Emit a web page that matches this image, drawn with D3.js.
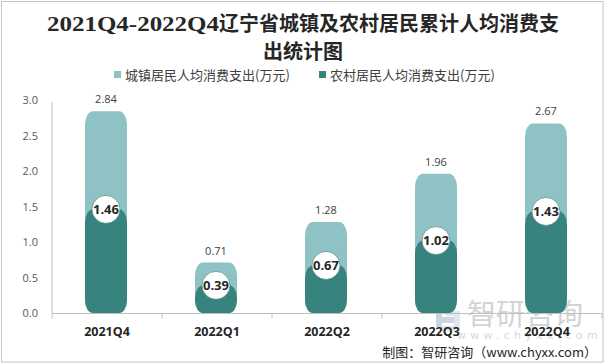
<!DOCTYPE html>
<html><head><meta charset="utf-8">
<script src="https://cdn.jsdelivr.net/npm/d3@7"></script>
<style>body{margin:0;background:#fff}svg{display:block}</style>
</head><body>
<script>
const categories = ["2021Q4","2022Q1","2022Q2","2022Q3","2022Q4"];
const urban = [2.84,0.71,1.28,1.96,2.67];
const rural = [1.46,0.39,0.67,1.02,1.43];
const yTicks = [0,0.5,1.0,1.5,2.0,2.5,3.0];
const seriesNames = ["城镇居民人均消费支出(万元)","农村居民人均消费支出(万元)"];
const colors = ["#8fc2c4","#37837e"];

const W=605,H=364;
const svg=d3.select("body").append("svg").attr("width",W).attr("height",H);
svg.append("rect").attr("x",0).attr("y",0).attr("width",W).attr("height",H).attr("fill","#fff");
svg.append("rect").attr("x",1.5).attr("y",1.5).attr("width",601.5).attr("height",360.5).attr("fill","none").attr("stroke","#c4c4c4");

// title
const cjk='"Noto Sans CJK SC","Noto Sans CJK JP",sans-serif';
const t1=svg.append("text").attr("x",303).attr("y",31).attr("text-anchor","middle").attr("font-size",20).attr("font-weight","bold").attr("fill","#262626").attr("font-family",cjk);
t1.append("tspan").attr("font-family",'"Liberation Serif",serif').attr("font-size",22).attr("textLength",172).attr("lengthAdjust","spacingAndGlyphs").text("2021Q4-2022Q4");
t1.append("tspan").text("辽宁省城镇及农村居民累计人均消费支");
svg.append("text").attr("x",303).attr("y",59).attr("text-anchor","middle").attr("font-size",20).attr("font-weight","bold").attr("fill","#262626").attr("font-family",cjk).text("出统计图");

// legend
const legX=[114,319];
seriesNames.forEach((n,i)=>{
  svg.append("rect").attr("x",legX[i]).attr("y",71).attr("width",7).attr("height",7).attr("fill",colors[i]);
  svg.append("text").attr("x",legX[i]+11).attr("y",79.5).attr("font-size",13).attr("fill","#404040").attr("font-family",cjk).text(n);
});

const x=d3.scaleBand().domain(categories).range([52,602]).padding(0);
const y=d3.scaleLinear().domain([0,3]).range([313,100]);

// y axis
const yAx=svg.append("g").attr("transform","translate(52,0)").call(d3.axisLeft(y).tickValues(yTicks).tickFormat(d3.format(".1f")).tickSize(0).tickPadding(14));
yAx.select(".domain").attr("stroke","#bfbfbf").attr("d","M0,102V313");
yAx.selectAll("text").attr("font-size",11).attr("fill","#595959").attr("font-family",'"Open Sans",sans-serif');

// watermark
const wm=svg.append("g").attr("opacity",0.55);
wm.append("path").attr("d","M436,303h20v6h-14v8h14v6h-14v4h-6z").attr("fill","#9fb7cc");
wm.append("path").attr("d","M446,311h14v20h-20v-5h14v-10h-8z").attr("fill","#c6d6e2");
wm.append("text").attr("x",467).attr("y",325).attr("font-size",29).attr("fill","#b0b0b0").attr("font-family",cjk).text("智研咨询");
wm.append("text").attr("x",457).attr("y",339).attr("font-size",11).attr("letter-spacing",4.3).attr("fill","#b8b8b8").attr("font-family",'"DejaVu Sans",sans-serif').text("www.chyxx.com");

// bars
const bw=42;
const g=svg.append("g");
categories.forEach((c,i)=>{
  const cx=x(c)+x.bandwidth()/2-1;
  g.append("rect").attr("x",cx-bw/2).attr("y",y(urban[i])).attr("width",bw).attr("height",y(0)-y(urban[i])).attr("rx",8).attr("ry",13).attr("fill",colors[0]);
  g.append("rect").attr("x",cx-bw/2).attr("y",y(rural[i])).attr("width",bw).attr("height",y(0)-y(rural[i])).attr("rx",8).attr("ry",13).attr("fill",colors[1]);
  g.append("text").attr("x",cx).attr("y",y(urban[i])-8).attr("text-anchor","middle").attr("font-size",11).attr("fill","#404040").attr("font-family",'"Open Sans",sans-serif').text(urban[i].toFixed(2));
  g.append("circle").attr("cx",cx).attr("cy",y(rural[i])).attr("r",14).attr("fill","#fff").attr("stroke","#5f8f8c").attr("stroke-width",0.8);
  g.append("text").attr("x",cx).attr("y",y(rural[i])+4.5).attr("text-anchor","middle").attr("font-size",13).attr("font-weight","bold").attr("fill","#262626").attr("font-family",'"Open Sans",sans-serif').text(rural[i].toFixed(2));
});

// x axis
const xAx=svg.append("g").attr("transform","translate(0,313.5)").call(d3.axisBottom(x).tickSize(0).tickPadding(0));
xAx.select(".domain").attr("stroke","#bfbfbf").attr("d","M52,0H602");
xAx.selectAll(".tick text").attr("y",14).attr("font-size",12.5).attr("font-weight","bold").attr("fill","#262626").attr("font-family",'"Open Sans",sans-serif');
categories.concat(["end"]).forEach((c,i)=>{
  const px=52+i*x.step();
  xAx.append("line").attr("x1",px).attr("x2",px).attr("y1",0).attr("y2",5).attr("stroke","#bfbfbf");
});

// source
svg.append("text").attr("x",597).attr("y",357).attr("text-anchor","end").attr("font-size",13).attr("fill","#262626").attr("font-family",cjk).text("制图：智研咨询（www.chyxx.com）");
</script>
</body></html>
